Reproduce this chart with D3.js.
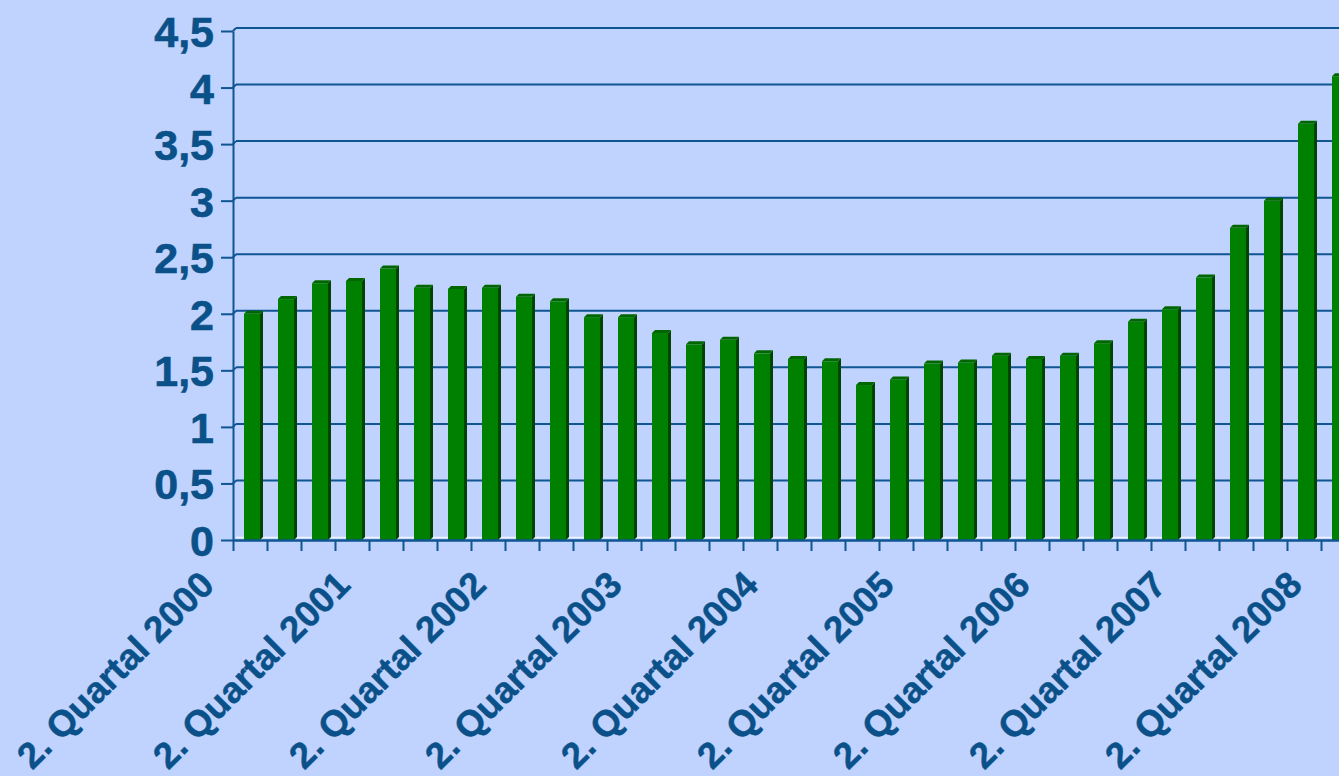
<!DOCTYPE html>
<html>
<head>
<meta charset="utf-8">
<script src="https://cdn.jsdelivr.net/npm/d3@7"></script>
<style>
  html, body { margin: 0; padding: 0; background: #bfd3fe; overflow: hidden; }
  svg { display: block; font-family: "Liberation Sans", Arial, sans-serif; font-weight: bold; }
</style>
</head>
<body>
<div id="chart"></div>
<script>
// Quarters (2. Quartal 2000 .. 2. Quartal 2008)
const quarters = [
  "2. Quartal 2000", "3. Quartal 2000", "4. Quartal 2000", "1. Quartal 2001",
  "2. Quartal 2001", "3. Quartal 2001", "4. Quartal 2001", "1. Quartal 2002",
  "2. Quartal 2002", "3. Quartal 2002", "4. Quartal 2002", "1. Quartal 2003",
  "2. Quartal 2003", "3. Quartal 2003", "4. Quartal 2003", "1. Quartal 2004",
  "2. Quartal 2004", "3. Quartal 2004", "4. Quartal 2004", "1. Quartal 2005",
  "2. Quartal 2005", "3. Quartal 2005", "4. Quartal 2005", "1. Quartal 2006",
  "2. Quartal 2006", "3. Quartal 2006", "4. Quartal 2006", "1. Quartal 2007",
  "2. Quartal 2007", "3. Quartal 2007", "4. Quartal 2007", "1. Quartal 2008",
  "2. Quartal 2008"
];

// Values
const values = [
  2.00, 2.13, 2.27, 2.29, 2.40, 2.23, 2.22, 2.23,
  2.15, 2.11, 1.97, 1.97, 1.83, 1.73, 1.77, 1.65,
  1.60, 1.58, 1.37, 1.42, 1.56, 1.57, 1.63, 1.60,
  1.63, 1.74, 1.93, 2.04, 2.32, 2.76, 3.00, 3.68,
  4.10
];

const yTicks = [0, 0.5, 1, 1.5, 2, 2.5, 3, 3.5, 4, 4.5];

const width = 1339, height = 776;
const plotLeft = 233, plotBottom = 540, plotTop = 31;
const step = 34;
const depth = 3;

const svg = d3.select("#chart")
  .append("svg")
  .attr("width", width)
  .attr("height", height);

const x = d3.scaleLinear()
  .domain([0, quarters.length])
  .range([plotLeft, plotLeft + quarters.length * step]);

const y = d3.scaleLinear()
  .domain([0, 4.5])
  .range([plotBottom, plotTop]);

const fmt = d => String(d).replace(".", ",");
const textColor = "#0a5089";
const lineColor = "#0f5592";

// Gridlines on the back wall (shifted by the 3D depth)
const grid = svg.append("g");
yTicks.forEach(t => {
  if (t === 0) return;
  grid.append("line")
    .attr("x1", plotLeft + depth).attr("x2", width)
    .attr("y1", y(t) - depth).attr("y2", y(t) - depth)
    .attr("stroke", lineColor).attr("stroke-width", 2);
  grid.append("line")
    .attr("x1", plotLeft).attr("x2", plotLeft + depth)
    .attr("y1", y(t)).attr("y2", y(t) - depth)
    .attr("stroke", lineColor).attr("stroke-width", 2);
});

// floor edge
svg.append("line")
  .attr("x1", plotLeft + depth).attr("x2", width)
  .attr("y1", plotBottom - 2.5).attr("y2", plotBottom - 2.5)
  .attr("stroke", "#eef3ff").attr("stroke-width", 1.5);

// Bars
const barOff = 11, barW = 16;
const bars = svg.append("g");
values.forEach((v, i) => {
  const x0 = x(i) + barOff;
  const yv = y(v);
  // front
  bars.append("rect")
    .attr("x", x0).attr("y", yv)
    .attr("width", barW).attr("height", plotBottom - yv)
    .attr("fill", "#008000");
  // side
  bars.append("polygon")
    .attr("points", [[x0 + barW, yv], [x0 + barW + depth, yv - depth],
                     [x0 + barW + depth, plotBottom - depth], [x0 + barW, plotBottom]].join(" "))
    .attr("fill", "#004400");
  // top
  bars.append("polygon")
    .attr("points", [[x0, yv], [x0 + depth, yv - depth],
                     [x0 + barW + depth, yv - depth], [x0 + barW, yv]].join(" "))
    .attr("fill", "#006600");
});

// Y axis
const yAxis = svg.append("g")
  .attr("transform", "translate(" + plotLeft + ",0)")
  .call(d3.axisLeft(y).tickValues(yTicks).tickFormat(fmt).tickSize(12).tickPadding(7).tickSizeOuter(0));
yAxis.select(".domain").attr("stroke", lineColor).attr("stroke-width", 2);
yAxis.selectAll(".tick line").attr("stroke", lineColor).attr("stroke-width", 2);
yAxis.selectAll(".tick text")
  .attr("fill", textColor)
  .attr("stroke", textColor)
  .attr("stroke-width", 0.6)
  .style("font-size", "43px")
  .style("font-weight", "bold")
  .style("font-family", "'Liberation Sans', Arial, sans-serif")
  .attr("dy", "0.36em");

// X axis (ticks between categories)
const xAxis = svg.append("g")
  .attr("transform", "translate(0," + plotBottom + ")")
  .call(d3.axisBottom(x).tickValues(d3.range(0, quarters.length + 1)).tickFormat("").tickSize(11).tickSizeOuter(0));
xAxis.select(".domain").attr("stroke", lineColor).attr("stroke-width", 2.5);
xAxis.selectAll(".tick line").attr("stroke", lineColor).attr("stroke-width", 2);

// Category labels, every 4th quarter
svg.append("g")
  .selectAll("text")
  .data(quarters.map((q, i) => ({ q, i })).filter(d => d.q.startsWith("2.")))
  .enter()
  .append("text")
  .attr("transform", d => "translate(" + (x(d.i) + step / 2 - 34) + ",587) rotate(-45)")
  .attr("text-anchor", "end")
  .attr("fill", textColor)
  .attr("stroke", textColor)
  .attr("stroke-width", 0.5)
  .style("font-size", "36.5px")
  .text(d => d.q);
</script>
</body>
</html>
